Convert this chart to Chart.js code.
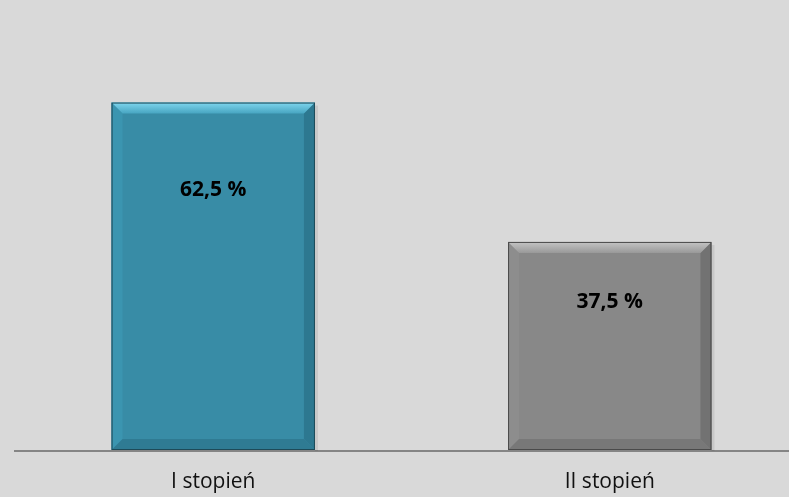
<!DOCTYPE html>
<html>
<head>
<meta charset="utf-8">
<script src="https://cdn.jsdelivr.net/npm/chart.js@4"></script>
<style>
  html, body { margin: 0; padding: 0; background: #d9d9d9; overflow: hidden; }
  #wrap { position: relative; width: 808px; height: 497px; }
</style>
</head>
<body>
<div id="wrap"><canvas id="chart"></canvas></div>
<script>
// chart data
const categories = ['I stopień', 'II stopień'];
const values = [62.5, 37.5];
const valueLabels = ['62,5 %', '37,5 %'];

// bar looks (bevelled like the office chart)
const barStyles = [
    { main: '#388ca6', top1: '#7fd6ee', top2: '#47a5c1', left: '#3b95b0', right: '#2d7890', bottom: '#2f7b93', edge: '#1d4a58' },
    { main: '#888888', top1: '#c4c4c4', top2: '#999999', left: '#8d8d8d', right: '#727272', bottom: '#787878', edge: '#4a4a4a' }
];
const labelOffset = [87, 60];

const bevelPlugin = {
    id: 'bevel',
    afterDatasetsDraw(chart) {
        const ctx = chart.ctx;
        const meta = chart.getDatasetMeta(0);
        meta.data.forEach((bar, i) => {
            const s = barStyles[i];
            const l = bar.x - bar.width / 2, r = bar.x + bar.width / 2;
            const t = bar.y, b = bar.base - 1;
            const bv = 11;
            ctx.save();
            // shadow on the right side
            ctx.fillStyle = 'rgba(0,0,0,0.08)';
            ctx.fillRect(r, t + 3, 3, b - t - 2);
            // face
            ctx.fillStyle = s.main;
            ctx.fillRect(l, t, r - l, b - t);
            // left bevel
            ctx.fillStyle = s.left;
            ctx.beginPath();
            ctx.moveTo(l, t); ctx.lineTo(l + bv, t + bv); ctx.lineTo(l + bv, b - bv); ctx.lineTo(l, b);
            ctx.fill();
            // right bevel
            ctx.fillStyle = s.right;
            ctx.beginPath();
            ctx.moveTo(r, t); ctx.lineTo(r - bv, t + bv); ctx.lineTo(r - bv, b - bv); ctx.lineTo(r, b);
            ctx.fill();
            // bottom bevel
            ctx.fillStyle = s.bottom;
            ctx.beginPath();
            ctx.moveTo(l, b); ctx.lineTo(l + bv, b - bv); ctx.lineTo(r - bv, b - bv); ctx.lineTo(r, b);
            ctx.fill();
            // top bevel
            const g = ctx.createLinearGradient(0, t, 0, t + bv);
            g.addColorStop(0, s.top1);
            g.addColorStop(1, s.top2);
            ctx.fillStyle = g;
            ctx.beginPath();
            ctx.moveTo(l, t); ctx.lineTo(r, t); ctx.lineTo(r - bv, t + bv); ctx.lineTo(l + bv, t + bv);
            ctx.fill();
            // outline
            ctx.strokeStyle = s.edge;
            ctx.lineWidth = 1;
            ctx.strokeRect(l + 0.5, t + 0.5, r - l - 1, b - t - 1);
            // value label
            ctx.fillStyle = '#000';
            ctx.font = 'bold 21px "Open Sans"';
            ctx.textAlign = 'center';
            ctx.textBaseline = 'middle';
            ctx.fillText(valueLabels[i], bar.x, t + labelOffset[i]);
            ctx.restore();
        });
    }
};

const ctx = document.getElementById('chart').getContext('2d');
const myChart = new Chart(ctx, {
    type: 'bar',
    data: {
        labels: categories,
        datasets: [{
            data: values,
            backgroundColor: 'rgba(0,0,0,0)',
            borderWidth: 0,
            barPercentage: 0.513,
            categoryPercentage: 1
        }]
    },
    options: {
        responsive: true,
        maintainAspectRatio: false,
        animation: false,
        layout: { padding: { left: 15, right: 0, top: 5, bottom: 0 } },
        plugins: {
            legend: { display: false },
            tooltip: { enabled: false }
        },
        scales: {
            x: {
                grid: { display: false },
                border: { display: true, color: '#858585', width: 2 },
                ticks: {
                    color: '#111',
                    font: { family: 'Open Sans', size: 21 },
                    padding: 10
                },
                afterFit(scale) { scale.height = 46; }
            },
            y: {
                display: false,
                min: 0,
                max: 80
            }
        }
    },
    plugins: [bevelPlugin]
});
</script>
</body>
</html>
